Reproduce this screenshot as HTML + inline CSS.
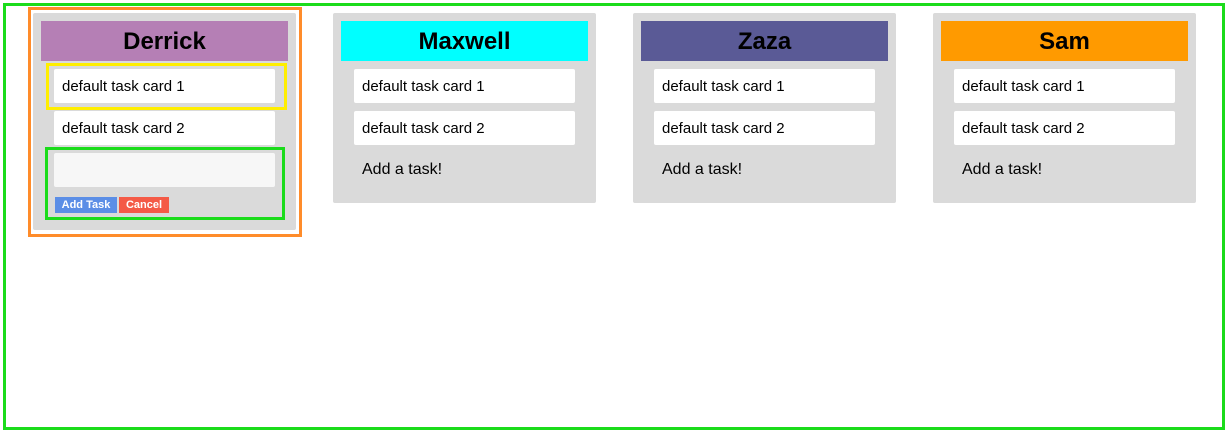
<!DOCTYPE html>
<html><head><style>
body{margin:0;width:1228px;height:433px;background:#fff;position:relative;font-family:"Liberation Sans",Arial,sans-serif;overflow:hidden}
.a{position:absolute;box-sizing:border-box}
.panel{background:#dadada;border-radius:2px}
.hd{font-weight:bold;font-size:24px;text-align:center;line-height:42px;color:#000}
.card{background:#fff;border-radius:2px;font-size:15px;line-height:35px;padding-left:8px;color:#000}
.add{font-size:16px;color:#000}
</style></head><body>
<div class="a" style="left:3px;top:3px;width:1222px;height:427px;border:3px solid #1bdc1b"></div>
<div class="a" style="left:28px;top:7px;width:274px;height:230px;border:3px solid #ff8c2a"></div>

<div class="a panel" style="left:33px;top:13px;width:263px;height:217px"></div>
<div class="a hd" style="left:41px;top:21px;width:247px;height:40px;background:#b57fb5">Derrick</div>
<div class="a" style="left:46px;top:63px;width:241px;height:47px;border:3px solid #ffee00"></div>
<div class="a card" style="left:54px;top:69px;width:221px;height:34px">default task card 1</div>
<div class="a card" style="left:54px;top:111px;width:221px;height:34px">default task card 2</div>
<div class="a" style="left:45px;top:147px;width:240px;height:73px;border:3px solid #1bdc1b"></div>
<div class="a" style="left:54px;top:153px;width:221px;height:34px;background:#f7f7f7;border-radius:2px"></div>
<div class="a" style="left:55px;top:197px;width:62px;height:16px;background:#5b8ee6;color:#fff;font-size:11px;font-weight:bold;text-align:center;line-height:17px">Add Task</div>
<div class="a" style="left:119px;top:197px;width:50px;height:16px;background:#f45a46;color:#fff;font-size:11px;font-weight:bold;text-align:center;line-height:17px">Cancel</div>

<div class="a panel" style="left:333px;top:13px;width:263px;height:190px"></div>
<div class="a hd" style="left:341px;top:21px;width:247px;height:40px;background:#00ffff">Maxwell</div>
<div class="a card" style="left:354px;top:69px;width:221px;height:34px">default task card 1</div>
<div class="a card" style="left:354px;top:111px;width:221px;height:34px">default task card 2</div>
<div class="a add" style="left:362px;top:161px">Add a task!</div>

<div class="a panel" style="left:633px;top:13px;width:263px;height:190px"></div>
<div class="a hd" style="left:641px;top:21px;width:247px;height:40px;background:#5a5a96">Zaza</div>
<div class="a card" style="left:654px;top:69px;width:221px;height:34px">default task card 1</div>
<div class="a card" style="left:654px;top:111px;width:221px;height:34px">default task card 2</div>
<div class="a add" style="left:662px;top:161px">Add a task!</div>

<div class="a panel" style="left:933px;top:13px;width:263px;height:190px"></div>
<div class="a hd" style="left:941px;top:21px;width:247px;height:40px;background:#ff9a00">Sam</div>
<div class="a card" style="left:954px;top:69px;width:221px;height:34px">default task card 1</div>
<div class="a card" style="left:954px;top:111px;width:221px;height:34px">default task card 2</div>
<div class="a add" style="left:962px;top:161px">Add a task!</div>
</body></html>
